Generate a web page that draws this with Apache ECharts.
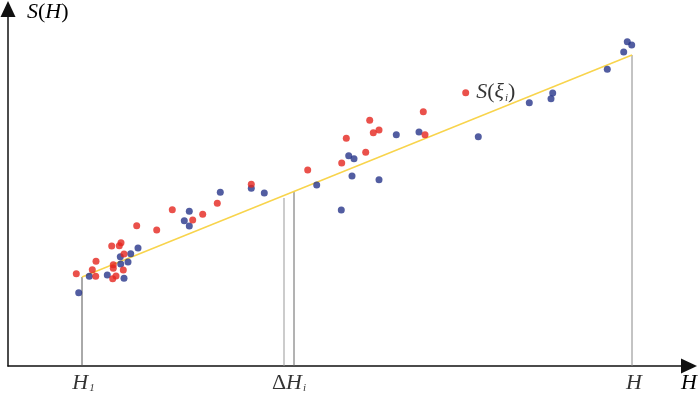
<!DOCTYPE html>
<html>
<head>
<meta charset="utf-8">
<script src="https://cdn.jsdelivr.net/npm/echarts@6/dist/echarts.min.js"></script>
<style>
  html, body { margin: 0; padding: 0; background: #fff; }
  #chart { width: 700px; height: 397px; }
</style>
</head>
<body>
<div id="chart"></div>
<script>
// x to the right of the S axis, y up from the H axis
const redPoints = [
  [68.3, 92.3], [128.7, 140.3], [148.7, 136], [103.7, 120], [113, 123.3], [111.3, 120.3],
  [116, 112], [88, 104.7], [84.3, 96.3], [87.7, 89.7], [105.3, 101.3], [105.3, 97.7],
  [104.7, 87.3], [108, 90], [115.3, 96], [164.3, 156.3], [184.7, 146], [194.7, 151.7],
  [209.3, 162.7], [243.3, 181.7], [299.7, 196], [338.3, 227.7], [361.7, 245.7],
  [365.3, 233.3], [371, 236], [357.7, 213.7], [333.7, 203], [415.3, 254.3], [417, 231.3]
];
const bluePoints = [
  [70.7, 73.3], [81.3, 89.7], [99.3, 91], [112.3, 109.3], [122.7, 112.3], [130, 118],
  [112.7, 102], [120, 104], [116, 87.7], [181.3, 154.7], [176.3, 145.3], [181.3, 140],
  [212.3, 173.7], [243.3, 177.7], [256.3, 173], [308.7, 181], [340.7, 210.3], [346, 207.3],
  [344, 190], [371, 186.3], [333.3, 156], [388.3, 231.3], [411, 234], [470.3, 229.3],
  [521.3, 263.3], [543, 267.3], [544.7, 273], [599.3, 296.7], [615.7, 314], [619.3, 324.3],
  [623.7, 321]
];
const xiPoint = [457.7, 273.3];
const fitLine = [[74, 89], [624, 311]];
// vertical guides: [x, top]
const guides = [[74, 89], [276, 168], [286, 174.5], [624, 311]];
const guideColors = ["#555", "#999", "#666", "#888"];
const tickLabels = [
  [75.5, "{i|H}{s|1}"],
  [281, "{n|Δ}{i|H}{s|i}"],
  [626, "{i|H}"]
];

const serif = "'Liberation Serif', 'DejaVu Serif', serif";
const rich = {
  i: { fontFamily: serif, fontStyle: "italic", fontSize: 22, color: "#000" },
  n: { fontFamily: serif, fontSize: 22, color: "#000" },
  s: { fontFamily: serif, fontStyle: "italic", fontSize: 11, color: "#000", verticalAlign: "bottom", padding: [10, 0, 0, 1] }
};

const chart = echarts.init(document.getElementById("chart"), null, { renderer: "canvas" });

const series = [];
guides.forEach((g, k) => {
  series.push({
    type: "line",
    data: [[g[0], 0], [g[0], g[1]]],
    symbol: "none",
    lineStyle: { color: guideColors[k], width: 1 },
    silent: true,
    z: 1
  });
});
series.push({
  type: "line",
  data: fitLine,
  symbol: "none",
  lineStyle: { color: "#f8d44c", width: 1.5 },
  z: 2
});
series.push({
  type: "scatter",
  data: bluePoints,
  symbolSize: 7,
  itemStyle: { color: "#27358a" },
  z: 3
});
series.push({
  type: "scatter",
  data: redPoints,
  symbolSize: 7,
  itemStyle: { color: "#e5261e" },
  z: 4
});
series.push({
  type: "scatter",
  data: [xiPoint],
  symbolSize: 7,
  itemStyle: { color: "#e5261e" },
  label: {
    show: true,
    position: "right",
    distance: 7,
    formatter: "{i|S}{n|(}{i|ξ}{s|i}{n|)}",
    rich: rich
  },
  z: 4
});
series.push({
  type: "scatter",
  data: tickLabels.map((t) => ({ value: [t[0], 0], label: { formatter: t[1] } })),
  symbolSize: 0,
  label: { show: true, position: "bottom", distance: 6, rich: rich },
  z: 5
});

const axisLine = {
  lineStyle: { color: "#111", width: 1.5 },
  symbol: ["none", "triangle"],
  symbolSize: [15, 16]
};

chart.setOption({
  animation: false,
  backgroundColor: "#fff",
  grid: { left: 8, right: 11, top: 9, bottom: 31 },
  xAxis: {
    type: "value",
    min: 0,
    max: 681,
    axisLine: axisLine,
    axisTick: { show: false },
    axisLabel: { show: false },
    splitLine: { show: false }
  },
  yAxis: {
    type: "value",
    min: 0,
    max: 357,
    axisLine: axisLine,
    axisTick: { show: false },
    axisLabel: { show: false },
    splitLine: { show: false }
  },
  graphic: [
    { type: "text", left: 27, top: 1, style: { text: "{i|S}{n|(}{i|H}{n|)}", rich: rich } },
    { type: "text", left: 681, top: 372, style: { text: "{i|H}", rich: rich } }
  ],
  series: series
});
</script>
</body>
</html>
